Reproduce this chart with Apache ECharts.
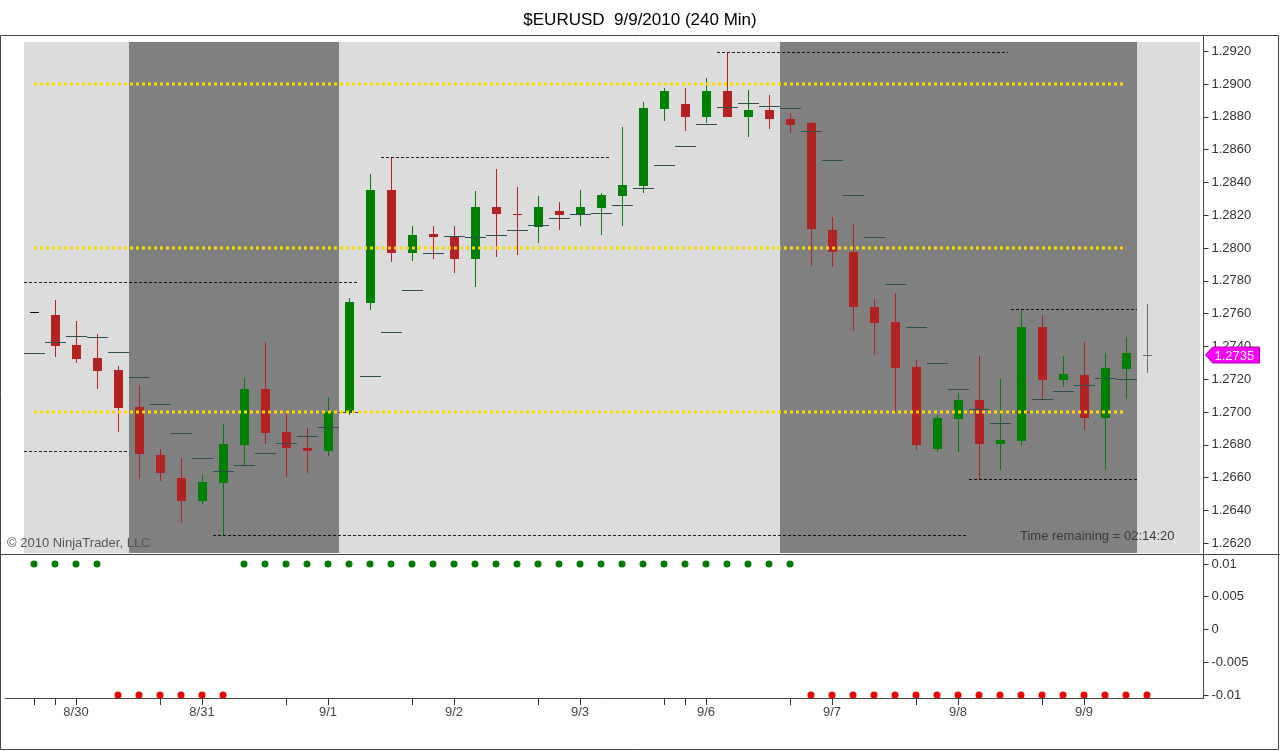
<!DOCTYPE html>
<html>
<head>
<meta charset="utf-8">
<script src="https://cdn.jsdelivr.net/npm/echarts@6/dist/echarts.min.js"></script>
<style>
html,body{margin:0;padding:0;background:#fff;}
#c{width:1280px;height:751px;}
</style>
</head>
<body>
<div id="c"></div>
<script>
// ---------- data (240-min bars, index 0 .. 53) ----------
const opens  = [1.27610,1.27591,1.27409,1.27329,1.27256,1.27032,1.26738,1.26598,1.26459,1.26570,
                1.26801,1.27140,1.26878,1.26782,1.26764,1.27000,1.27666,1.28354,1.27971,1.28085,
                1.28069,1.27931,1.28252,1.28210,1.28130,1.28226,1.28205,1.28246,1.28317,1.28378,
                1.28849,1.28880,1.28801,1.28957,1.28801,1.28841,1.28785,1.28760,1.28110,1.27976,
                1.27642,1.27549,1.27273,1.26776,1.26957,1.27073,1.26805,1.26825,1.27518,1.27195,
                1.27226,1.26965,1.27262,1.27350];
const highs  = [1.27610,1.27683,1.27557,1.27476,1.27280,1.27163,1.26774,1.26718,1.26616,1.26927,
                1.27209,1.27425,1.27012,1.26904,1.27093,1.27697,1.28451,1.28555,1.28134,1.28134,
                1.28134,1.28349,1.28482,1.28374,1.28317,1.28280,1.28354,1.28334,1.28740,1.28888,
                1.28974,1.28974,1.29035,1.29195,1.28963,1.28933,1.28821,1.28770,1.28187,1.28144,
                1.27689,1.27724,1.27317,1.26982,1.27114,1.27341,1.27203,1.27626,1.27590,1.27341,
                1.27429,1.27358,1.27459,1.27659];
const lows   = [1.27610,1.27337,1.27301,1.27140,1.26880,1.26590,1.26581,1.26321,1.26439,1.26250,
                1.26677,1.26803,1.26605,1.26626,1.26734,1.26982,1.27622,1.27916,1.27923,1.27931,
                1.27849,1.27760,1.27947,1.27955,1.28032,1.28110,1.28136,1.28079,1.28136,1.28334,
                1.28776,1.28715,1.28764,1.28801,1.28679,1.28727,1.28699,1.27892,1.27886,1.27494,
                1.27348,1.27002,1.26768,1.26758,1.26758,1.26590,1.26646,1.26793,1.27077,1.27151,
                1.26890,1.26646,1.27077,1.27236];
const closes = [1.27610,1.27404,1.27325,1.27252,1.27026,1.26742,1.26630,1.26459,1.26573,1.26805,
                1.27140,1.26874,1.26782,1.26762,1.27000,1.27673,1.28354,1.27971,1.28079,1.28065,
                1.27931,1.28252,1.28205,1.28204,1.28250,1.28201,1.28250,1.28323,1.28384,1.28854,
                1.28959,1.28801,1.28957,1.28801,1.28841,1.28788,1.28748,1.28114,1.27974,1.27638,
                1.27545,1.27270,1.26799,1.26962,1.27073,1.26805,1.26829,1.27518,1.27195,1.27232,
                1.26965,1.27268,1.27362,1.27350];
// horizontal step indicator drawn under each bar
const stepValues = [1.27360,1.27425,1.27462,1.27455,1.27366,1.27212,1.27047,1.26870,1.26718,1.26640,
                1.26675,1.26748,1.26809,1.26852,1.26907,1.27002,1.27220,1.27488,1.27744,1.27968,
                1.28073,1.28065,1.28077,1.28109,1.28138,1.28181,1.28205,1.28212,1.28260,1.28364,
                1.28504,1.28620,1.28756,1.28860,1.28884,1.28866,1.28852,1.28715,1.28535,1.28321,
                1.28067,1.27780,1.27516,1.27297,1.27138,1.27018,1.26931,1.26998,1.27077,1.27128,
                1.27163,1.27205,1.27199,null];
// lower panel trend signal
const signalValues = [0.01,0.01,0.01,0.01,-0.01,-0.01,-0.01,-0.01,-0.01,-0.01,
                0.01,0.01,0.01,0.01,0.01,0.01,0.01,0.01,0.01,0.01,
                0.01,0.01,0.01,0.01,0.01,0.01,0.01,0.01,0.01,0.01,
                0.01,0.01,0.01,0.01,0.01,0.01,0.01,-0.01,-0.01,-0.01,
                -0.01,-0.01,-0.01,-0.01,-0.01,-0.01,-0.01,-0.01,-0.01,-0.01,
                -0.01,-0.01,-0.01,-0.01];
// session high / low dashed lines
const levelStarts = [-0.5, -0.5, 16.5, 8.5, 32.5, 46.5, 44.5];
const levelEnds   = [15.4, 4.5, 27.43, 44.43, 46.4, 52.5, 52.5];
const levelPrices = [1.27793, 1.26760, 1.28555, 1.26250, 1.29195, 1.27626, 1.26590];
// round-number yellow dotted lines
const keyLevels = [1.2900, 1.2800, 1.2700];
const keyLevelStart = 0, keyLevelEnd = 51.85;
// background session shading
const bandStarts = [-0.5, 4.5, 14.5, 35.5, 52.5];
const bandEnds   = [4.5, 14.5, 35.5, 52.5, 55.5];
const bandShades = [0, 1, 0, 1, 0];
// axis ticks / labels
const priceTicks = [1.2620,1.2640,1.2660,1.2680,1.2700,1.2720,1.2740,1.2760,1.2780,1.2800,1.2820,1.2840,1.2860,1.2880,1.2900,1.2920];
const signalTicks = [-0.01,-0.005,0,0.005,0.01];
const dateTickBars = [0,1,2,6,8,12,14,18,20,24,26,30,31,32,36,38,42,44,48,50];
const dateLabelBars = [2,8,14,20,26,32,38,44,50];
const dateLabelTexts = ['8/30','8/31','9/1','9/2','9/3','9/6','9/7','9/8','9/9'];
const lastIndex = opens.length - 1;

// ---------- styling ----------
const FONT = '"Liberation Sans", Arial, sans-serif';
const UP = '#008000', DOWN = '#B22222', DOJI = '#000000', CURRENT = '#707070';
const STEP = '#2F4F4F';
const SHADES = ['#DCDCDC', '#808080'];

const chart = echarts.init(document.getElementById('c'), null, {renderer: 'canvas'});

const candleData = opens.map((o, i) => [i, o, closes[i], lows[i], highs[i]]);
const stepData = [];
stepValues.forEach((v, i) => { if (v != null) stepData.push([i, v]); });
const levelData = levelPrices.map((p, k) => [levelStarts[k], levelEnds[k], p]);
const keyData = keyLevels.map(p => [keyLevelStart, keyLevelEnd, p]);
const bandData = bandShades.map((s, k) => [bandStarts[k], bandEnds[k], s]);
const signalData = signalValues.map((v, i) => ({value: [i, v], itemStyle: {color: v > 0 ? '#007A00' : '#EE0000', opacity: 1}}));

function renderBand(params, api) {
  const cs = params.coordSys;
  const x0 = Math.round(api.coord([api.value(0), 0])[0]);
  const x1 = Math.round(api.coord([api.value(1), 0])[0]);
  return {type: 'rect', shape: {x: x0, y: cs.y, width: x1 - x0, height: cs.height},
          style: {fill: SHADES[api.value(2)]}};
}
function renderCandle(params, api) {
  const i = api.value(0), o = api.value(1), c = api.value(2), l = api.value(3), h = api.value(4);
  const x = Math.round(api.coord([i, o])[0]);
  const yO = api.coord([i, o])[1], yC = api.coord([i, c])[1];
  const yL = Math.round(api.coord([i, l])[1]), yH = Math.round(api.coord([i, h])[1]);
  const color = c > o ? UP : (c < o ? DOWN : (i === lastIndex ? CURRENT : DOJI));
  const top = Math.round(Math.min(yO, yC)), bot = Math.round(Math.max(yO, yC));
  const children = [];
  if (yL > yH) children.push({type: 'line', shape: {x1: x + 0.5, y1: yH, x2: x + 0.5, y2: yL}, style: {stroke: color, lineWidth: 1}});
  if (bot - top >= 1) {
    children.push({type: 'rect', shape: {x: x - 4, y: top, width: 9, height: bot - top}, style: {fill: color}});
  } else {
    children.push({type: 'line', shape: {x1: x - 4, y1: top + 0.5, x2: x + 5, y2: top + 0.5}, style: {stroke: color, lineWidth: 1}});
  }
  return {type: 'group', children};
}
function renderStep(params, api) {
  const p = api.coord([api.value(0), api.value(1)]);
  const x = Math.round(p[0]), y = Math.round(p[1]) + 0.5;
  return {type: 'line', shape: {x1: x - 10, y1: y, x2: x + 11, y2: y}, style: {stroke: STEP, lineWidth: 1}};
}
function renderLevel(params, api) {
  const a = api.coord([api.value(0), api.value(2)]);
  const b = api.coord([api.value(1), api.value(2)]);
  const y = Math.round(a[1]) + 0.5;
  return {type: 'line', shape: {x1: Math.round(a[0]), y1: y, x2: Math.round(b[0]), y2: y},
          style: {stroke: '#000', lineWidth: 1, lineDash: [3, 2], opacity: 0.85}};
}
function renderKey(params, api) {
  const a = api.coord([api.value(0), api.value(2)]);
  const b = api.coord([api.value(1), api.value(2)]);
  const y = Math.round(a[1]);
  return {type: 'line', shape: {x1: Math.round(a[0]), y1: y, x2: Math.round(b[0]), y2: y},
          style: {stroke: '#FFD700', lineWidth: 3, lineDash: [3, 3]}};
}
function renderMarker(params, api) {
  const cs = params.coordSys;
  const v = api.value(1);
  const y = Math.round(api.coord([api.value(0), v])[1]);
  const x0 = cs.x + cs.width + 6;
  return {type: 'group', children: [
    {type: 'polygon', shape: {points: [[x0, y], [x0 + 7, y - 8], [x0 + 54, y - 8], [x0 + 54, y + 8], [x0 + 7, y + 8]]},
     style: {fill: '#FF00FF', stroke: '#B000B0', lineWidth: 1}},
    {type: 'text', x: x0 + 9, y: y + 1, style: {text: v.toFixed(4), fill: '#fff', font: '13px ' + FONT, verticalAlign: 'middle', align: 'left'}}
  ]};
}

const option = {
  animation: false,
  backgroundColor: '#fff',
  title: {
    text: '$EURUSD  9/9/2010 (240 Min)', left: 'center', top: 7,
    textStyle: {fontFamily: FONT, fontSize: 17, fontWeight: 'normal', color: '#000'}
  },
  grid: [
    {left: 23.5, top: 42, width: 1176, height: 511},
    {left: 23.5, top: 555, width: 1176, height: 143}
  ],
  xAxis: [
    {type: 'value', gridIndex: 0, min: -0.5, max: 55.5, show: false, axisLine: {onZero: false}},
    {type: 'value', gridIndex: 1, min: -0.5, max: 55.5, position: 'bottom',
     axisLine: {show: false, onZero: false}, splitLine: {show: false},
     axisTick: {show: true, length: 7, customValues: dateTickBars, lineStyle: {color: '#333'}},
     axisLabel: {show: true, customValues: dateLabelBars, margin: 8,
                 formatter: v => dateLabelTexts[dateLabelBars.indexOf(Math.round(v))] || '',
                 fontFamily: FONT, fontSize: 13, color: '#444'}}
  ],
  yAxis: [
    {type: 'value', gridIndex: 0, position: 'right', offset: 4, min: 1.261402, max: 1.292561,
     axisLine: {show: false, onZero: false}, splitLine: {show: false},
     axisTick: {show: true, length: 5, customValues: priceTicks, lineStyle: {color: '#333'}},
     axisLabel: {show: true, customValues: priceTicks, margin: 8, formatter: v => v.toFixed(4),
                 fontFamily: FONT, fontSize: 13, color: '#333'}},
    {type: 'value', gridIndex: 1, position: 'right', offset: 4, min: -0.010458, max: 0.011374,
     axisLine: {show: false, onZero: false}, splitLine: {show: false},
     axisTick: {show: true, length: 5, customValues: signalTicks, lineStyle: {color: '#333'}},
     axisLabel: {show: true, customValues: signalTicks, margin: 8, formatter: v => String(Math.round(v * 1000) / 1000),
                 fontFamily: FONT, fontSize: 13, color: '#333'}}
  ],
  series: [
    {type: 'custom', name: 'sessions', xAxisIndex: 0, yAxisIndex: 0, data: bandData, renderItem: renderBand, z: 1, silent: true},
    {type: 'custom', name: 'EURUSD', xAxisIndex: 0, yAxisIndex: 0, data: candleData, renderItem: renderCandle, z: 2,
     encode: {x: 0, y: [1, 2, 3, 4]}},
    {type: 'custom', name: 'step', xAxisIndex: 0, yAxisIndex: 0, data: stepData, renderItem: renderStep, z: 3},
    {type: 'custom', name: 'levels', xAxisIndex: 0, yAxisIndex: 0, data: levelData, renderItem: renderLevel, z: 4,
     encode: {x: [0, 1], y: 2}},
    {type: 'custom', name: 'round levels', xAxisIndex: 0, yAxisIndex: 0, data: keyData, renderItem: renderKey, z: 5,
     encode: {x: [0, 1], y: 2}},
    {type: 'custom', name: 'last price', xAxisIndex: 0, yAxisIndex: 0, data: [[lastIndex, closes[lastIndex]]],
     renderItem: renderMarker, clip: false, z: 10},
    {type: 'scatter', name: 'signal', xAxisIndex: 1, yAxisIndex: 1, data: signalData, symbol: 'circle', symbolSize: 7, z: 3, clip: false}
  ],
  graphic: [
    {type: 'rect', shape: {x: 0.5, y: 35.5, width: 1278, height: 714}, style: {fill: null, stroke: '#444', lineWidth: 1}, z: 100, silent: true},
    {type: 'line', shape: {x1: 0, y1: 554.5, x2: 1280, y2: 554.5}, style: {stroke: '#444', lineWidth: 1}, z: 100},
    {type: 'line', shape: {x1: 1203.5, y1: 35, x2: 1203.5, y2: 698}, style: {stroke: '#444', lineWidth: 1}, z: 100},
    {type: 'line', shape: {x1: 5, y1: 698.5, x2: 1204, y2: 698.5}, style: {stroke: '#444', lineWidth: 1}, z: 100},
    {type: 'text', left: 7, top: 537, style: {text: '\u00A9 2010 NinjaTrader, LLC', fill: '#555', font: '13px ' + FONT}, z: 100},
    {type: 'text', left: 1020, top: 530, style: {text: 'Time remaining = 02:14:20', fill: '#3a3a3a', font: '13px ' + FONT}, z: 100}
  ]
};
chart.setOption(option);
</script>
</body>
</html>
